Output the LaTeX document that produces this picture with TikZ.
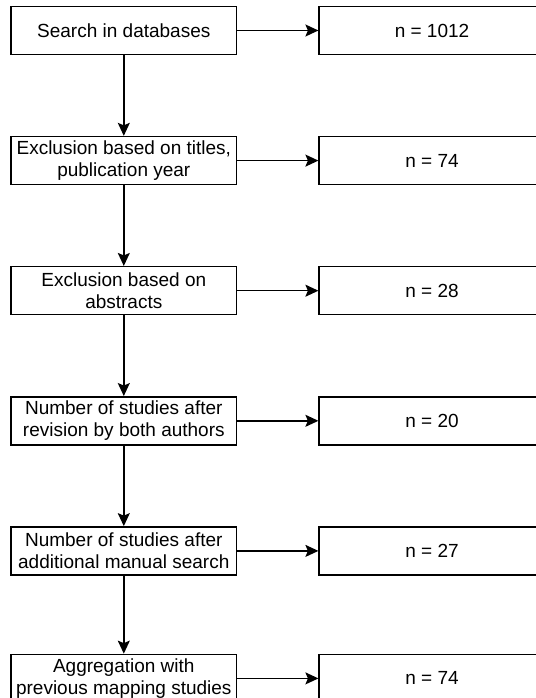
\documentclass[tikz,border=0pt]{standalone}
\usepackage{fontspec}
\setmainfont{Liberation Sans}
\usetikzlibrary{positioning,arrows.meta}
\tikzset{stage/.style={draw, line width=1.5pt, fill=white,
    minimum width=225.7pt, minimum height=48pt, inner sep=1pt,
    align=center, font=\fontsize{19}{22}\selectfont},
    flow/.style={line width=1.5pt, arrows={-Stealth[length=13pt,width=12pt,inset=2.5pt]}},
    }

\begin{document}
\begin{tikzpicture}[x=1pt,y=1pt,node distance=80.6pt and 81pt]
\useasboundingbox (0,0) rectangle (535,-698);
% left column
\node[stage] (search) at (123.8,-30.5) {Search in databases};
\node[stage, below=of search] (titles) {Exclusion based on titles,\\publication year};
\node[stage, below=of titles] (abstracts) {Exclusion based on\\abstracts};
\node[stage, below=of abstracts] (revision) {Number of studies after\\revision by both authors};
\node[stage, below=of revision] (manual) {Number of studies after\\additional manual search};
\node[stage, below=78pt of manual] (aggregation) {Aggregation with\\previous mapping studies};
% right column
\node[stage, right=of search] (nsearch) {n = 1012};
\node[stage, right=of titles] (ntitles) {n = 74};
\node[stage, right=of abstracts] (nabstracts) {n = 28};
\node[stage, right=of revision] (nrevision) {n = 20};
\node[stage, right=of manual] (nmanual) {n = 27};
\node[stage, right=of aggregation] (naggregation) {n = 74};
% connectors
\foreach \a/\b in {search/titles, titles/abstracts, abstracts/revision,
    revision/manual, manual/aggregation}
  \draw[flow] (\a) -- (\b);
\foreach \a in {search, titles, abstracts, revision, manual, aggregation}
  \draw[flow] (\a) -- (n\a);
\end{tikzpicture}
\end{document}
